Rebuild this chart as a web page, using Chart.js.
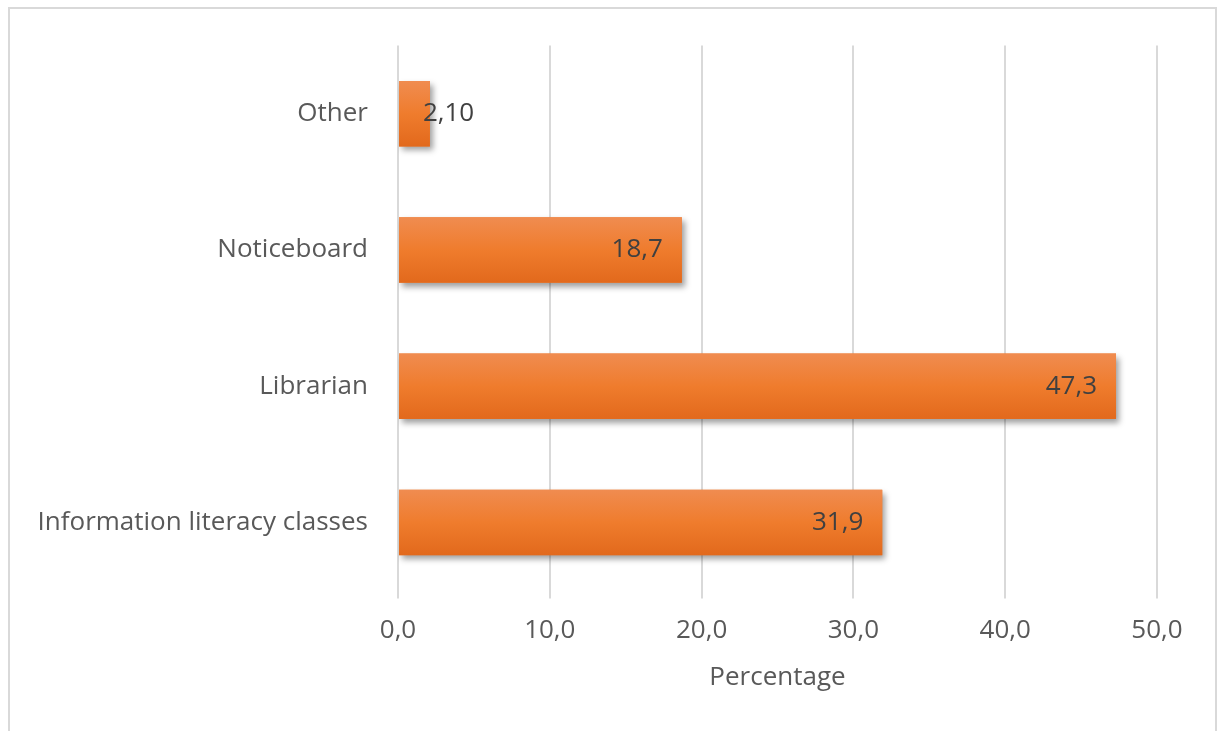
<!DOCTYPE html>
<html>
<head>
<meta charset="utf-8">
<script src="https://cdn.jsdelivr.net/npm/chart.js@4"></script>
<style>
  html, body { margin: 0; padding: 0; background: #fff; overflow: hidden; }
  #frame {
    position: absolute; left: 8px; top: 7px; width: 1209px; height: 760px;
    border: 2px solid #d9d9d9; box-sizing: border-box;
  }
  #wrap { position: absolute; left: 0; top: 0; width: 1226px; height: 731px; }
</style>
</head>
<body>
<div id="frame"></div>
<div id="wrap"><canvas id="plot" width="1226" height="731"></canvas></div>
<script>
const categories = ["Other", "Noticeboard", "Librarian", "Information literacy classes"];
const percentages = [2.10, 18.7, 47.3, 31.9];
const labelDecimals = [2, 1, 1, 1];
const xTicks = [0, 10, 20, 30, 40, 50];

const FONT = "'Open Sans', sans-serif";
const SIZE = 26;
const TEXT = "#595959";

// comma as decimal separator
function fmt(v, d) {
  return v.toFixed(d).replace(".", ",");
}

// soft drop shadow under the bars, then a vertical gradient over each one
const barLook = {
  id: "barLook",
  beforeDatasetsDraw(chart) {
    const ctx = chart.ctx;
    ctx.save();
    ctx.shadowColor = "rgba(0,0,0,0.38)";
    ctx.shadowBlur = 6;
    ctx.shadowOffsetX = 3;
    ctx.shadowOffsetY = 4;
  },
  afterDatasetsDraw(chart) {
    const ctx = chart.ctx;
    ctx.restore();
    const meta = chart.getDatasetMeta(0);
    meta.data.forEach((bar, i) => {
      const p = bar.getProps(["x", "y", "base", "height"], true);
      const top = p.y - p.height / 2;
      const g = ctx.createLinearGradient(0, top, 0, top + p.height);
      g.addColorStop(0, "#f08c50");
      g.addColorStop(0.5, "#ef7c2d");
      g.addColorStop(1, "#e2691c");
      ctx.fillStyle = g;
      ctx.fillRect(p.base, top, p.x - p.base, p.height);

      // value label at the inner end of the bar
      const txt = fmt(percentages[i], labelDecimals[i]);
      ctx.font = SIZE + "px " + FONT;
      ctx.fillStyle = "#404040";
      ctx.textBaseline = "middle";
      const w = ctx.measureText(txt).width;
      if (w + 30 > p.x - p.base) {
        ctx.textAlign = "left";
        ctx.fillText(txt, p.x - 7, p.y);
      } else {
        ctx.textAlign = "right";
        ctx.fillText(txt, p.x - 19, p.y);
      }
    });
  }
};

const chart = new Chart(document.getElementById("plot").getContext("2d"), {
  type: "bar",
  data: {
    labels: categories,
    datasets: [{
      data: percentages,
      backgroundColor: "#ed7d31",
      borderWidth: 0,
      categoryPercentage: 1,
      barPercentage: 0.48
    }]
  },
  plugins: [barLook],
  options: {
    indexAxis: "y",
    responsive: false,
    animation: false,
    layout: { padding: { left: 0, top: 45, right: 69, bottom: 38 } },
    plugins: { legend: { display: false }, tooltip: { enabled: false } },
    scales: {
      x: {
        min: 0,
        max: 50,
        afterBuildTicks(scale) {
          scale.ticks = xTicks.map(v => ({ value: v }));
        },
        border: { display: false },
        grid: { color: "#d9d9d9", lineWidth: 2, drawTicks: true, tickLength: 8 },
        ticks: {
          padding: 16,
          color: TEXT,
          font: { family: FONT, size: SIZE },
          callback: v => fmt(v, 1)
        },
        title: {
          display: true,
          text: "Percentage",
          color: TEXT,
          font: { family: FONT, size: SIZE },
          padding: { top: 0, bottom: 0 }
        }
      },
      y: {
        afterFit(scale) { scale.width = 398; },
        border: { display: false },
        grid: { display: false, drawTicks: false },
        ticks: {
          padding: 30,
          color: TEXT,
          font: { family: FONT, size: SIZE }
        }
      }
    }
  }
});
</script>
</body>
</html>
